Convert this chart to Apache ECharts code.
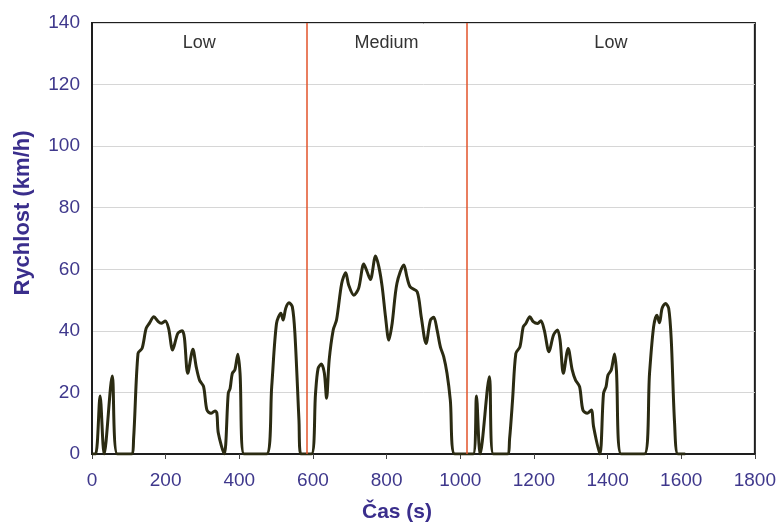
<!DOCTYPE html>
<html>
<head>
<meta charset="utf-8">
<script src="https://cdn.jsdelivr.net/npm/echarts@6/dist/echarts.min.js"></script>
<style>html,body{margin:0;padding:0;background:#fff;}#c{width:779px;height:522px;}</style>
</head>
<body>
<div id="c"></div>
<script>
// time (s) and speed (km/h)
const timeS = [0,10,22,33,55,69,107,113,125,136,147,156,168,180,188,199,208,219,233,245,251,260,274,283,292,303,312,323,334,339,343,359,370,375,381,388,396,402,413,474,488,501,513,519,526,535,544,551,562,567,
  596,607,614,623,631,637,644,655,664,678,689,697,711,724,738,747,756,770,779,788,797,806,815,828,847,855,864,883,894,907,919,928,937,946,955,964,973,985,
  1035,1044,1054,1079,1090,1128,1134,1142,1151,1162,1171,1178,1189,1198,1210,1219,1228,1241,1253,1264,1271,1280,1293,1304,1313,1324,1333,1345,1356,1362,1379,1389,1396,1401,1410,1419,1424,1437,1500,1514,1525,1534,1541,1548,1557,1566,1573,1582,1591,1611];
const speedKmh = [0,0,18.8,0,25.3,0,0,5,32.7,34.3,40.8,42.5,44.6,43,42.5,43.2,40.8,33.8,39.2,40,37.7,26.2,34,28.3,24,21.9,14.3,13.2,14,13.3,6.8,0,19.7,21.3,26.2,27.3,32.4,26.2,0,0,21.9,42.4,45.7,43.5,47.3,49.1,47.8,39.2,11,0,
  0,19.7,27.8,29.2,26.2,18.1,30.5,40.3,43.5,55.4,58.9,54.9,51.6,53.8,61.7,59.2,56.7,64.3,60.8,54.3,44.6,37,42.4,55.4,61.4,57.6,54.3,52.7,44.6,35.9,43.5,44.4,40.3,34.8,31.6,26.2,17.5,0,
  0,18.8,0,25.1,0,0,5,17.5,32.7,34.8,41.3,42.4,44.6,43,42.4,43.3,40.3,33.2,38.6,40.3,37,26.2,34.3,27.3,24,21.9,14.3,13.2,14.3,8.9,0,19.7,21.9,25.6,27.3,32.5,27.3,0,0,26.2,41.3,45.1,42.6,47.3,48.9,47.3,37,10,0,0];
const phaseNames = ['Low', 'Medium', 'Low'];
const phaseBounds = [0, 582, 1018, 1800];
const xTicks = {min: 0, max: 1800, step: 200};
const yTicks = {min: 0, max: 140, step: 20};

const tickColor = '#3f388c';
const chart = echarts.init(document.getElementById('c'), null, {renderer: 'canvas'});
const seriesData = timeS.map((t, i) => [t, speedKmh[i]]);
const areas = phaseNames.map((n, i) => [{xAxis: phaseBounds[i], name: n}, {xAxis: phaseBounds[i + 1]}]);
chart.setOption({
  animation: false,
  backgroundColor: '#fff',
  grid: {left: 92, right: 23, top: 23, bottom: 68, show: true, borderColor: '#1e1e1e', borderWidth: 2, backgroundColor: 'transparent'},
  xAxis: {
    type: 'value', min: xTicks.min, max: xTicks.max, interval: xTicks.step,
    axisLine: {show: true, lineStyle: {color: '#1e1e1e', width: 2}},
    axisTick: {show: true, length: 5, lineStyle: {color: '#444'}},
    axisLabel: {color: tickColor, fontSize: 19, fontFamily: 'Liberation Sans, Arial', margin: 17, formatter: v => String(v)},
    splitLine: {show: false}
  },
  yAxis: {
    type: 'value', min: yTicks.min, max: yTicks.max, interval: yTicks.step,
    axisLine: {show: true, lineStyle: {color: '#1e1e1e', width: 2}},
    axisTick: {show: false},
    axisLabel: {color: tickColor, fontSize: 19, fontFamily: 'Liberation Sans, Arial', margin: 12, formatter: v => String(v)},
    splitLine: {show: true, lineStyle: {color: '#d6d6d6', width: 1}}
  },
  graphic: [
    {type: 'text', x: 23, y: 213, rotation: Math.PI / 2,
     style: {text: 'Rychlost (km/h)', fill: '#3a2e8c', font: 'bold 22px Liberation Sans, Arial', textAlign: 'center', textVerticalAlign: 'middle'}},
    {type: 'text', x: 397, y: 512,
     style: {text: 'Čas (s)', fill: '#3a2e8c', font: 'bold 21px Liberation Sans, Arial', textAlign: 'center', textVerticalAlign: 'middle'}}
  ],
  series: [{
    type: 'line',
    data: seriesData,
    smooth: 0.3,
    showSymbol: false,
    lineStyle: {color: '#2b2b12', width: 3},
    z: 3,
    markLine: {
      silent: true, symbol: 'none',
      lineStyle: {color: '#e2532a', width: 1.5, type: 'solid'},
      label: {show: false},
      data: phaseBounds.slice(1, 3).map(b => ({xAxis: b}))
    },
    markArea: {
      silent: true,
      itemStyle: {color: 'rgba(0,0,0,0)'},
      label: {show: true, position: 'insideTop', distance: 11, color: '#333', fontSize: 18, fontFamily: 'Liberation Sans, Arial'},
      data: areas
    }
  }]
});
</script>
</body>
</html>
